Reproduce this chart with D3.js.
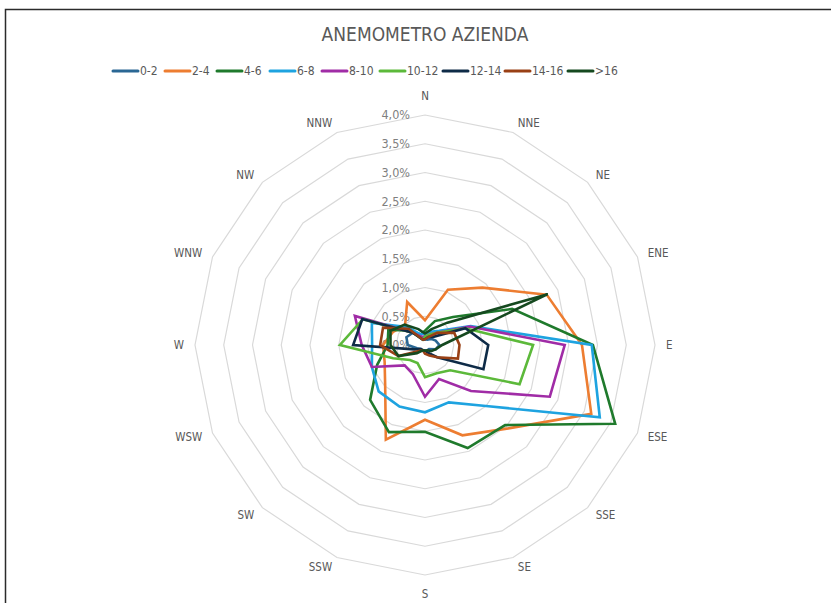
<!DOCTYPE html>
<html>
<head>
<meta charset="utf-8">
<script src="https://d3js.org/d3.v7.min.js"></script>
<style>
  body { margin: 0; background: #fff; }
  svg { display: block; }
</style>
</head>
<body>
<div id="chart"></div>
<script>
// wind directions, as labelled in the original sheet
var directions = ["N","NNE","NE","ENE","E","ESE","SSE","SE","S","SSW","SW","WSW","W","WNW","NW","NNW"];
var ticks = [0, 0.5, 1, 1.5, 2, 2.5, 3, 3.5, 4];
var speedClasses = ["0-2","2-4","4-6","6-8","8-10","10-12","12-14","14-16",">16"];

// frequency (%) per direction, N -> NNW
var v0_2   = [0.10,0.10,0.15,0.20,0.25,0.20,0.10,0.10,0.10,0.10,0.10,0.15,0.30,0.35,0.30,0.15];
var v2_4   = [0.43,1.04,1.41,2.29,2.73,3.13,2.05,1.70,1.30,1.78,0.98,0.76,0.73,0.60,0.49,0.81];
var v4_6   = [0.25,0.45,0.69,1.64,2.92,3.58,1.97,1.94,1.51,1.64,1.35,0.90,0.65,0.69,0.35,0.20];
var v6_8   = [0.20,0.25,0.35,0.86,2.90,3.29,1.50,1.08,1.17,1.16,1.14,1.00,0.92,1.00,0.44,0.20];
var v8_10  = [0.15,0.20,0.30,0.84,2.43,2.35,1.13,0.64,0.90,0.55,0.50,1.00,1.10,1.32,0.30,0.15];
var v10_12 = [0.15,0.20,0.30,0.76,1.88,1.78,0.62,0.53,0.56,0.34,0.37,0.60,1.48,1.17,0.30,0.10];
var v12_14 = [0.10,0.15,0.20,0.76,1.10,1.10,0.30,0.15,0.10,0.10,0.10,0.20,1.25,1.18,0.30,0.10];
var v14_16 = [0.10,0.15,0.30,0.55,0.60,0.62,0.30,0.20,0.15,0.10,0.15,0.50,0.78,0.79,0.40,0.10];
var v16    = [0.20,0.30,0.55,2.31,0.30,0.20,0.15,0.10,0.10,0.10,0.20,0.50,0.60,0.65,0.50,0.30];

var seriesValues = [v0_2, v2_4, v4_6, v6_8, v8_10, v10_12, v12_14, v14_16, v16];
var seriesColors = ["#2a6794","#ed7d31","#1f7a2c","#1ea3e0","#a02ca6","#5cb93a","#0e2b47","#994015","#15491f"];

var width = 831, height = 603,
    cx = 425, cy = 345,
    radius = 230,
    labelRadius = 240,
    gridColor = "#d9d9d9",
    textColor = "#595959";

var svg = d3.select("#chart").append("svg")
    .attr("width", width)
    .attr("height", height)
    .style("font-family", "'Liberation Sans Narrow', 'DejaVu Sans Condensed', 'Liberation Sans', sans-serif");

// chart frame (cut on right/bottom in the screenshot)
svg.append("rect")
    .attr("x", 5.5).attr("y", 9.5)
    .attr("width", width + 20).attr("height", height + 20)
    .attr("fill", "none")
    .attr("stroke", "#2b2b2b")
    .attr("stroke-width", 1.5);

var r = d3.scaleLinear().domain([0, 4]).range([0, radius]);
var angle = d3.scalePoint().domain(directions).range([0, 2 * Math.PI * 15 / 16]);

function px(dir, v) { return cx + r(v) * Math.sin(angle(dir)); }
function py(dir, v) { return cy - r(v) * Math.cos(angle(dir)); }

var g = svg.append("g");

// grid rings
g.selectAll("polygon.ring")
    .data(ticks.filter(function(t){ return t > 0; }))
  .enter().append("polygon")
    .attr("class", "ring")
    .attr("points", function(t){
      return directions.map(function(d){ return px(d, t) + "," + py(d, t); }).join(" ");
    })
    .attr("fill", "none")
    .attr("stroke", gridColor)
    .attr("stroke-width", 1.2);

// value labels along N axis
g.selectAll("text.tick")
    .data(ticks)
  .enter().append("text")
    .attr("class", "tick")
    .attr("x", cx - 15)
    .attr("y", function(t){ return cy - r(t); })
    .attr("dy", "0.35em")
    .attr("text-anchor", "end")
    .attr("fill", "#7f7f7f")
    .style("font-size", "12.5px")
    .text(function(t){ return d3.format(".1f")(t).replace(".", ",") + "%"; });

// direction labels: anchored outward like Excel does
g.selectAll("text.dir")
    .data(directions)
  .enter().append("text")
    .attr("class", "dir")
    .attr("x", function(d){
      var s = Math.sin(angle(d));
      return cx + labelRadius * s + (Math.abs(s) < 0.1 ? 0 : (s > 0 ? 1 : -1));
    })
    .attr("y", function(d){
      var s = Math.sin(angle(d)), c = Math.cos(angle(d));
      return cy - labelRadius * c - (Math.abs(s) < 0.1 ? 9 * c : 0);
    })
    .attr("dy", "0.35em")
    .attr("text-anchor", function(d){
      var s = Math.sin(angle(d));
      return Math.abs(s) < 0.1 ? "middle" : (s > 0 ? "start" : "end");
    })
    .attr("fill", textColor)
    .style("font-size", "11.5px")
    .text(function(d){ return d; });

// series
var line = d3.line()
    .x(function(d, i){ return px(directions[i], d); })
    .y(function(d, i){ return py(directions[i], d); })
    .curve(d3.curveLinearClosed);

g.selectAll("path.series")
    .data(seriesValues)
  .enter().append("path")
    .attr("class", "series")
    .attr("d", line)
    .attr("fill", "none")
    .attr("stroke", function(d, i){ return seriesColors[i]; })
    .attr("stroke-width", 2.6)
    .attr("stroke-linejoin", "miter");

// title
svg.append("text")
    .attr("x", cx)
    .attr("y", 41)
    .attr("text-anchor", "middle")
    .attr("fill", textColor)
    .style("font-size", "19px")
    .text("ANEMOMETRO AZIENDA");

// legend
var legendX = [113, 165, 217, 270, 322, 380, 443, 505, 568];
var legend = svg.selectAll("g.legend")
    .data(speedClasses)
  .enter().append("g")
    .attr("class", "legend")
    .attr("transform", function(d, i){ return "translate(" + legendX[i] + ",71)"; });

legend.append("line")
    .attr("x1", 0).attr("x2", 25)
    .attr("y1", 0).attr("y2", 0)
    .attr("stroke", function(d, i){ return seriesColors[i]; })
    .attr("stroke-width", 3)
    .attr("stroke-linecap", "round");

legend.append("text")
    .attr("x", 27)
    .attr("y", 0)
    .attr("dy", "0.35em")
    .attr("fill", textColor)
    .style("font-size", "12px")
    .text(function(d){ return d; });
</script>
</body>
</html>
